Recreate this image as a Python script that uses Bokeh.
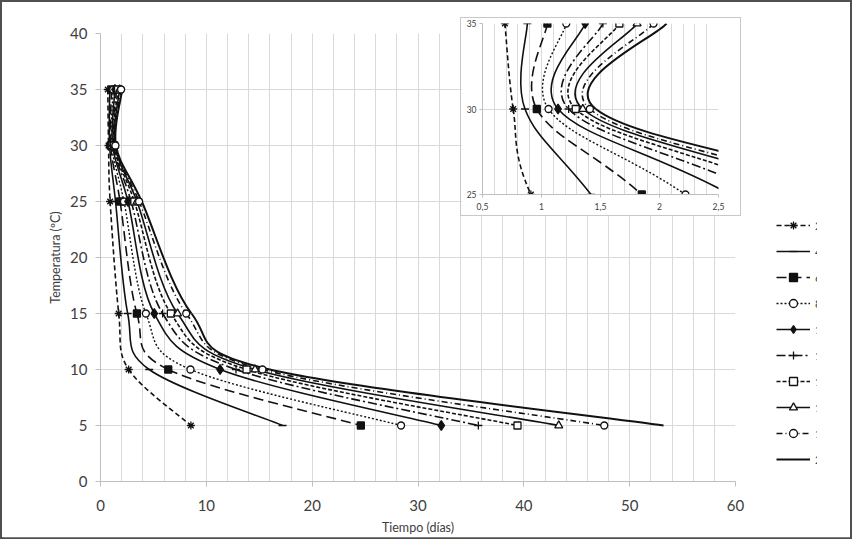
import numpy as np
from bokeh.plotting import figure
from bokeh.models import FixedTicker, Legend, LegendItem, Range1d, GridBox
from bokeh.embed import file_html
from bokeh.resources import INLINE

# ---------------- data ----------------
temperatures = [35, 30, 25, 15, 10, 5]
series_labels = ["2 mm", "4 mm", "6 mm", "8 mm", "10 mm",
                 "12 mm", "14 mm", "16 mm", "18 mm", "20 mm"]
days_2mm = [0.69, 0.76, 0.91, 1.72, 2.66, 8.54]
days_4mm = [0.88, 0.86, 1.42, 2.57, 4.60, 17.2]
days_6mm = [1.05, 0.96, 1.85, 3.44, 6.40, 24.6]
days_8mm = [1.21, 1.06, 2.22, 4.29, 8.50, 28.4]
days_10mm = [1.37, 1.14, 2.60, 5.08, 11.3, 32.2]
days_12mm = [1.52, 1.23, 2.90, 5.87, 12.8, 35.7]
days_14mm = [1.66, 1.29, 3.20, 6.65, 13.8, 39.4]
days_16mm = [1.81, 1.35, 3.45, 7.28, 14.6, 43.3]
days_18mm = [1.95, 1.41, 3.65, 8.10, 15.3, 47.6]
days_20mm = [2.06, 1.46, 3.90, 8.60, 16.0, 53.2]
series_days = [days_2mm, days_4mm, days_6mm, days_8mm, days_10mm,
               days_12mm, days_14mm, days_16mm, days_18mm, days_20mm]

main_x_ticks = [0, 10, 20, 30, 40, 50, 60]
main_y_ticks = [0, 5, 10, 15, 20, 25, 30, 35, 40]
inset_x_ticks = [0.5, 1.0, 1.5, 2.0, 2.5]
inset_x_tick_labels = ["0,5", "1", "1,5", "2", "2,5"]
inset_y_ticks = [25, 30, 35]
x_title = "Tiempo (días)"
y_title = "Temperatura (ºC)"

# ---------------- styles ----------------
INK = "#111111"
TXT = "#404040"
GRID = "#d9d9d9"
AXIS = "#bfbfbf"
FONT = "Lato"

STYLES = [
    dict(dash="5 3", width=1.6, marker="asterisk", size=8, fill=INK),
    dict(dash="solid", width=1.6, marker="dash", size=8, fill=INK),
    dict(dash="10 5", width=1.6, marker="square", size=7, fill=INK),
    dict(dash="2 2", width=1.4, marker="circle", size=7, fill="white"),
    dict(dash="solid", width=1.6, marker="diamond", size=10, fill=INK),
    dict(dash="9 3 2 3", width=1.6, marker="cross", size=8, fill=INK),
    dict(dash="4 2", width=1.6, marker="square", size=7, fill="white"),
    dict(dash="solid", width=1.6, marker="triangle", size=8, fill="white"),
    dict(dash="6 3 1 3", width=1.6, marker="circle", size=7, fill="white"),
    dict(dash="solid", width=2.0, marker=None, size=0, fill=INK),
]


def bezier_segments(xs, ys):
    """Smoothed-line control points (Catmull-Rom style, like the spreadsheet)."""
    n = len(xs)
    out = {k: [] for k in ("x0", "y0", "x1", "y1", "cx0", "cy0", "cx1", "cy1")}
    for i in range(n - 1):
        a = max(i - 1, 0)
        d = min(i + 2, n - 1)
        out["x0"].append(xs[i]); out["y0"].append(ys[i])
        out["x1"].append(xs[i + 1]); out["y1"].append(ys[i + 1])
        out["cx0"].append(xs[i] + (xs[i + 1] - xs[a]) / 6.0)
        out["cy0"].append(ys[i] + (ys[i + 1] - ys[a]) / 6.0)
        out["cx1"].append(xs[i + 1] - (xs[d] - xs[i]) / 6.0)
        out["cy1"].append(ys[i + 1] - (ys[d] - ys[i]) / 6.0)
    return out


def draw_series(f):
    line_rs, marker_rs = [], []
    for days, st in zip(series_days, STYLES):
        seg = bezier_segments(days, temperatures)
        r = f.bezier(x0=seg["x0"], y0=seg["y0"], x1=seg["x1"], y1=seg["y1"],
                     cx0=seg["cx0"], cy0=seg["cy0"], cx1=seg["cx1"], cy1=seg["cy1"],
                     line_color=INK, line_width=st["width"], line_dash=st["dash"])
        line_rs.append(r)
    for days, st in zip(series_days, STYLES):
        if st["marker"] is None:
            marker_rs.append(None)
            continue
        r = f.scatter(x=days, y=temperatures, marker=st["marker"], size=st["size"],
                      line_color=INK, line_width=1.3, fill_color=st["fill"])
        marker_rs.append(r)
    return line_rs, marker_rs


def style_axes(f, tick_out, font_size):
    for ax in (f.xaxis[0], f.yaxis[0]):
        ax.axis_line_color = AXIS
        ax.major_tick_line_color = AXIS
        ax.minor_tick_line_color = None
        ax.major_tick_in = 0
        ax.major_tick_out = tick_out
        ax.major_label_text_font = FONT
        ax.major_label_text_font_size = font_size
        ax.major_label_text_color = TXT
        ax.axis_label_text_font = FONT
        ax.axis_label_text_font_size = "12.5px"
        ax.axis_label_text_font_style = "normal"
        ax.axis_label_text_color = TXT


# ---------------- main figure ----------------
p = figure(width=848, height=535, x_range=Range1d(0, 60), y_range=Range1d(0, 40),
           output_backend="svg", toolbar_location=None,
           frame_width=635, frame_height=449,
           min_border_left=98, min_border_right=115, min_border_top=31, min_border_bottom=55)
p.outline_line_color = None
p.background_fill_color = "white"
p.border_fill_color = "white"
p.xaxis.ticker = FixedTicker(ticks=main_x_ticks)
p.yaxis.ticker = FixedTicker(ticks=main_y_ticks)
p.xgrid.ticker = FixedTicker(ticks=main_x_ticks, minor_ticks=list(np.arange(0, 61, 2)))
p.ygrid.ticker = FixedTicker(ticks=main_y_ticks)
p.xgrid.grid_line_color = GRID
p.xgrid.minor_grid_line_color = GRID
p.ygrid.grid_line_color = GRID
style_axes(p, 5, "15px")
p.xaxis.major_label_standoff = 13
p.yaxis.major_label_standoff = 8
p.xaxis.axis_label = x_title
p.yaxis.axis_label = y_title
p.xaxis.axis_label_standoff = 6
p.yaxis.axis_label_standoff = 4
draw_series(p)

# ---------------- inset ----------------
q = figure(width=281, height=199, x_range=Range1d(0.5, 2.5), y_range=Range1d(25, 35),
           output_backend="svg", toolbar_location=None,
           min_border_left=21, min_border_right=24, min_border_top=5, min_border_bottom=23)
q.outline_line_color = None
q.xaxis.ticker = FixedTicker(ticks=inset_x_ticks)
q.yaxis.ticker = FixedTicker(ticks=inset_y_ticks)
q.xaxis.major_label_overrides = dict(zip(inset_x_ticks, inset_x_tick_labels))
q.xgrid.ticker = FixedTicker(ticks=inset_x_ticks,
                             minor_ticks=list(np.round(np.arange(0.5, 2.51, 0.1), 2)))
q.ygrid.ticker = FixedTicker(ticks=inset_y_ticks)
q.xgrid.grid_line_color = GRID
q.xgrid.minor_grid_line_color = GRID
q.ygrid.grid_line_color = GRID
style_axes(q, 3, "8.5px")
q.xaxis.major_label_standoff = 5
q.yaxis.major_label_standoff = 3
draw_series(q)
q.styles = {"border": "1px solid #c8c8c8"}

# ---------------- legend panel (same series, ranges kept off the data) ----------------
lg = figure(width=107, height=520, x_range=Range1d(-2, -1), y_range=Range1d(-2, -1),
            output_backend="svg", toolbar_location=None,
            x_axis_location=None, y_axis_location=None,
            min_border_left=0, min_border_right=0, min_border_top=0, min_border_bottom=0)
lg.outline_line_color = None
lg.xgrid.visible = False
lg.ygrid.visible = False
lg.background_fill_alpha = 0
lg.border_fill_alpha = 0
lg_lines, lg_markers = draw_series(lg)

items = []
for lab, lr, mr in zip(series_labels, lg_lines, lg_markers):
    rs = [lr] + ([mr] if mr is not None else [])
    items.append(LegendItem(label=lab, renderers=rs))

legend = Legend(items=items, location=(0, 12), orientation="vertical",
                glyph_width=34, glyph_height=20, label_height=20, spacing=6,
                padding=0, margin=0, label_standoff=5,
                label_text_font=FONT, label_text_font_size="11.5px", label_text_color=TXT,
                background_fill_alpha=0, border_line_color=None)
lg.add_layout(legend, "center")

grid = GridBox(children=[(p, 0, 0, 3, 3), (q, 1, 1), (lg, 1, 2, 2, 1)],
               rows=["15px", "201px", "319px"], cols=["458px", "283px", "107px"], spacing=0,
               styles={"border": "2px solid #505050"})

open("out.html", "w").write(file_html(grid, INLINE))
